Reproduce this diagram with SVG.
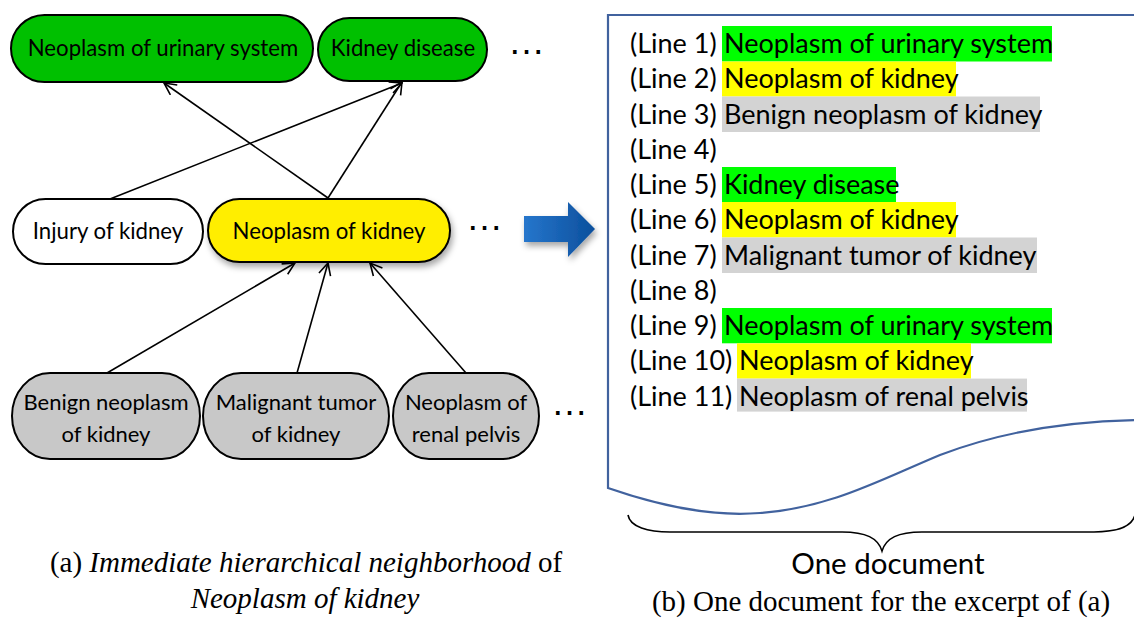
<svg xmlns="http://www.w3.org/2000/svg" width="1134" height="618" viewBox="0 0 1134 618">
<style>
.node{stroke:#000;stroke-width:2}
.green{fill:#00c000}
.yellow{fill:#ffee00}
.white{fill:#fff}
.gray{fill:#c8c8c8}
.nt{font-family:Lato,"Open Sans",sans-serif;font-size:22.2px;fill:#000;text-anchor:middle}
.bt{font-family:Lato,"Open Sans",sans-serif;font-size:22px;fill:#000;text-anchor:middle}
.lt{font-family:Lato,"Open Sans",sans-serif;font-size:27px;fill:#000}
.dots{font-family:"Liberation Sans",sans-serif;font-size:37px;fill:#000}
.cap{font-family:"Liberation Serif","Times New Roman",serif;font-size:29px;fill:#000}
.edge{stroke:#000;stroke-width:1.6;fill:none;marker-end:url(#ah)}
.hg{fill:#00ff00}
.hy{fill:#ffff00}
.hgr{fill:#d3d3d3}
</style>
<defs>
<marker id="ah" viewBox="0 0 14 14" refX="13" refY="7" markerWidth="14" markerHeight="14" markerUnits="userSpaceOnUse" orient="auto">
<path d="M1,1 L13,7 L1,13" fill="none" stroke="#000" stroke-width="1.6"/>
</marker>
<filter id="sh" x="-20%" y="-30%" width="140%" height="170%">
<feDropShadow dx="2" dy="4" stdDeviation="3" flood-color="#000" flood-opacity="0.35"/>
</filter>
<linearGradient id="bg" x1="0" y1="0" x2="1" y2="0">
<stop offset="0" stop-color="#2676cc"/>
<stop offset="1" stop-color="#0b4f9c"/>
</linearGradient>
</defs>

<g id="connectors">
<line class="edge" x1="110" y1="199" x2="402" y2="83"/>
<line class="edge" x1="328" y1="198" x2="402" y2="82"/>
<line class="edge" x1="328" y1="198" x2="164" y2="83"/>
<line class="edge" x1="107" y1="373" x2="295" y2="263"/>
<line class="edge" x1="297" y1="373" x2="328" y2="263"/>
<line class="edge" x1="466" y1="373" x2="370" y2="263"/>
</g>

<g id="n-urinary">
<rect class="node green" x="11" y="15" width="302" height="67" rx="33.5"/>
<text class="nt" x="163" y="56">Neoplasm of urinary system</text>
</g>
<g id="n-kidney-disease">
<rect class="node green" x="318" y="18" width="169" height="63" rx="31.5"/>
<text class="nt" x="403" y="56">Kidney disease</text>
</g>
<text class="dots" x="508" y="54">…</text>

<g id="n-injury">
<rect class="node white" x="13" y="199" width="190" height="65" rx="32.5"/>
<text class="nt" x="108" y="239">Injury of kidney</text>
</g>
<g id="n-neoplasm-kidney">
<rect class="node yellow" x="208" y="199" width="242" height="63" rx="31.5" filter="url(#sh)"/>
<text class="nt" x="329" y="239">Neoplasm of kidney</text>
</g>
<text class="dots" x="466" y="230">…</text>

<g id="n-benign">
<rect class="node gray" x="12" y="373" width="188" height="86" rx="38" ry="43"/>
<text class="bt" x="106" y="410">Benign neoplasm</text>
<text class="bt" x="106" y="442">of kidney</text>
</g>
<g id="n-malignant">
<rect class="node gray" x="203" y="373" width="186" height="86" rx="38" ry="43"/>
<text class="bt" x="296" y="410">Malignant tumor</text>
<text class="bt" x="296" y="442">of kidney</text>
</g>
<g id="n-renal">
<rect class="node gray" x="393" y="373" width="146" height="86" rx="36" ry="43"/>
<text class="bt" x="466" y="410">Neoplasm of</text>
<text class="bt" x="466" y="442">renal pelvis</text>
</g>
<text class="dots" x="551" y="415">…</text>

<g id="caption-a">
<text class="cap" x="306" y="572" text-anchor="middle">(a) <tspan font-style="italic">Immediate hierarchical neighborhood</tspan> of</text>
<text class="cap" x="305" y="608" text-anchor="middle" font-style="italic">Neoplasm of kidney</text>
</g>

<g id="big-arrow">
<path d="M524,216 L568,216 L568,202 L595,229 L568,257 L568,242 L524,242 Z" fill="url(#bg)" filter="url(#sh)"/>
</g>

<g id="document">
<path d="M1140,15 L608,15 L608,488 C660,506 710,517 760,513 C830,508 880,480 940,455 C1000,432 1070,421 1140,420" fill="none" stroke="#41629e" stroke-width="2.2"/>
<rect class="hg" x="722" y="26" width="330" height="35.5"/>
<rect class="hy" x="722" y="61.5" width="234" height="35"/>
<rect class="hgr" x="722" y="96.5" width="318" height="35.5"/>
<rect class="hg" x="722" y="167" width="174" height="35.5"/>
<rect class="hy" x="722" y="202" width="234" height="35.5"/>
<rect class="hgr" x="722" y="237.5" width="315" height="35.5"/>
<rect class="hg" x="722" y="308" width="330" height="35.3"/>
<rect class="hy" x="737" y="343.3" width="234" height="35.3"/>
<rect class="hgr" x="737" y="378.6" width="290" height="33"/>
<text class="lt" x="630" y="53">(Line 1) <tspan x="724">Neoplasm of urinary system</tspan></text>
<text class="lt" x="630" y="88.3">(Line 2) <tspan x="724">Neoplasm of kidney</tspan></text>
<text class="lt" x="630" y="123.5">(Line 3) <tspan x="724">Benign neoplasm of kidney</tspan></text>
<text class="lt" x="630" y="158.8">(Line 4)</text>
<text class="lt" x="630" y="194">(Line 5) <tspan x="724">Kidney disease</tspan></text>
<text class="lt" x="630" y="229.3">(Line 6) <tspan x="724">Neoplasm of kidney</tspan></text>
<text class="lt" x="630" y="264.5">(Line 7) <tspan x="724">Malignant tumor of kidney</tspan></text>
<text class="lt" x="630" y="299.8">(Line 8)</text>
<text class="lt" x="630" y="335">(Line 9) <tspan x="724">Neoplasm of urinary system</tspan></text>
<text class="lt" x="630" y="370.3">(Line 10) <tspan x="739">Neoplasm of kidney</tspan></text>
<text class="lt" x="630" y="405.5">(Line 11) <tspan x="739">Neoplasm of renal pelvis</tspan></text>
</g>

<g id="brace">
<path d="M628,515 C630,527 648,532 670,532 L842,532 C866,532 878,538 882,551 C886,538 898,532 922,532 L1094,532 C1116,532 1132,527 1135,515" fill="none" stroke="#000" stroke-width="1.6"/>
<text x="888" y="574" text-anchor="middle" font-family="Lato,'Open Sans',sans-serif" font-size="29.5px" fill="#000">One document</text>
</g>

<g id="caption-b">
<text class="cap" x="881" y="611" text-anchor="middle">(b) One document for the excerpt of (a)</text>
</g>
</svg>
